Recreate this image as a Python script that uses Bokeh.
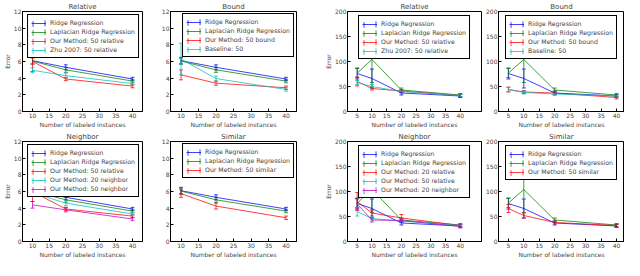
from bokeh.plotting import figure
from bokeh.models import (Range1d, FixedTicker, Whisker, TeeHead, ColumnDataSource,
                          Legend, LegendItem)
from bokeh.layouts import row, column
from bokeh.embed import file_html
from bokeh.resources import INLINE

FONT = "DejaVu Sans"
BLUE, GREEN, RED, CYAN, MAGENTA = "#0000ff", "#008000", "#ff0000", "#00bfbf", "#bf00bf"

# ---------------- data ----------------
x_few = [10, 20, 40]
x_many = [5, 10, 20, 40]
ticks_few = [10, 15, 20, 25, 30, 35, 40]
ticks_many = [5, 10, 15, 20, 25, 30, 35, 40]
yticks_err = [0, 2, 4, 6, 8, 10, 12]
yticks_big = [0, 50, 100, 150, 200]

# panels with 0-12 scale
ridge_a = [6.1, 5.3, 3.9]
ridge_a_sd = [0.4, 0.3, 0.2]
lap_a = [6.05, 5.0, 3.65]
lap_a_sd = [0.35, 0.3, 0.2]
rel50_a = [6.0, 3.9, 3.05]
rel50_a_sd = [1.2, 0.2, 0.2]
zhu50_a = [4.95, 4.3, 3.35]
zhu50_a_sd = [0.3, 0.3, 0.2]
bound50_a = [4.4, 3.4, 2.85]
bound50_a_sd = [0.6, 0.25, 0.2]
base50_a = [6.3, 3.95, 2.65]
base50_a_sd = [1.9, 0.3, 0.2]
nb20_a = [5.85, 4.6, 3.3]
nb20_a_sd = [0.35, 0.3, 0.2]
nb50_a = [4.4, 3.8, 2.7]
nb50_a_sd = [0.4, 0.25, 0.2]
sim50_a = [5.75, 4.25, 2.85]
sim50_a_sd = [0.45, 0.35, 0.2]

# panels with 0-200 scale
ridge_b = [76, 66, 37, 31]
ridge_b_sd = [11, 19, 4, 3]
lap_b = [77, 104, 43, 33]
lap_b_sd = [9, 46, 4, 3]
rel50_b = [60, 46, 41, 32]
rel50_b_sd = [9, 3, 3, 3]
zhu50_b = [58, 50, 40, 32]
zhu50_b_sd = [4, 4, 3, 2]
bound50_b = [44, 39, 37, 28]
bound50_b_sd = [5, 3, 3, 3]
base50_b = [44, 38, 35, 31]
base50_b_sd = [4, 3, 2, 2]
rel20_b = [80, 57, 47, 32]
rel20_b_sd = [18, 6, 7, 3]
nb20_b = [75, 43, 42, 30]
nb20_b_sd = [10, 4, 3, 3]
sim50_b = [66, 52, 38, 32]
sim50_b_sd = [8, 5, 3, 3]

TICK_FS = "6px"
LABEL_FS = "6px"
TITLE_FS = "7px"
LEGEND_FS = "6.2px"
ALPHA = 0.75


def make_panel(title, series, xs, xr, yr, xticks, yticks, width, height,
               mb, ylabel, legend_loc, legend_margin):
    p = figure(width=width, height=height, x_range=Range1d(*xr), y_range=Range1d(*yr),
               output_backend="svg", toolbar_location=None,
               min_border_left=mb[0], min_border_right=mb[1],
               min_border_top=mb[2], min_border_bottom=mb[3])
    p.grid.visible = False
    p.outline_line_color = "black"
    p.outline_line_alpha = 1
    p.background_fill_color = "white"
    p.border_fill_color = "white"
    p.title.text = title
    p.title.text_font = FONT
    p.title.text_font_size = TITLE_FS
    p.title.text_font_style = "normal"
    p.title.align = "center"
    p.title.standoff = 1
    p.title.offset = 0
    for ax in (p.xaxis[0], p.yaxis[0]):
        ax.major_label_text_font = FONT
        ax.major_label_text_font_size = TICK_FS
        ax.axis_label_text_font = FONT
        ax.axis_label_text_font_size = LABEL_FS
        ax.axis_label_text_font_style = "normal"
        ax.axis_label_standoff = 0
        ax.major_label_standoff = 1
        ax.major_tick_in = 3
        ax.major_tick_out = 0
        ax.minor_tick_line_color = None
        ax.axis_line_color = "black"
        ax.major_tick_line_color = "black"
    p.xaxis.ticker = FixedTicker(ticks=xticks)
    p.yaxis.ticker = FixedTicker(ticks=yticks)
    p.xaxis.axis_label = "Number of labeled instances"
    if ylabel:
        p.yaxis.axis_label = ylabel

    items = []
    for label, color, vals, sds in series:
        src = ColumnDataSource(dict(x=xs, y=vals,
                                    lo=[v - s for v, s in zip(vals, sds)],
                                    hi=[v + s for v, s in zip(vals, sds)]))
        lr = p.line("x", "y", source=src, line_color=color, line_alpha=ALPHA, line_width=1)
        w = Whisker(base="x", upper="hi", lower="lo", source=src,
                    line_color=color, line_alpha=ALPHA, line_width=1,
                    upper_head=TeeHead(size=4, line_color=color, line_alpha=ALPHA),
                    lower_head=TeeHead(size=4, line_color=color, line_alpha=ALPHA))
        p.add_layout(w)
        rr = p.rect("x", "y", width=0.1, height=0.1, source=src, fill_color=None,
                    line_color=color, line_alpha=ALPHA, line_dash="0 12 6 12 6 0",
                    visible=False)
        items.append(LegendItem(label=label, renderers=[lr, rr]))
    leg = Legend(items=items, location=legend_loc, margin=legend_margin,
                 padding=3, spacing=0, glyph_width=15, glyph_height=8,
                 label_height=9, label_standoff=4,
                 label_text_font=FONT, label_text_font_size=LEGEND_FS,
                 border_line_color="black", border_line_alpha=1, border_line_width=1,
                 background_fill_color="white", background_fill_alpha=1)
    p.add_layout(leg)
    return p


H = 130
MB1 = (16, 16, 10, 15)
MB2 = (11, 26, 10, 15)
MB3 = (21, 2, 10, 15)
MB4 = (13, 0, 10, 15)
W1, W2, W3, W4 = 158, 164, 161, 141
XR_A = (7, 43)
XR_B3 = (1.7, 47.2)
XR_B4 = (1.8, 42.6)

p1 = make_panel("Relative", [
    ("Ridge Regression", BLUE, ridge_a, ridge_a_sd),
    ("Laplacian Ridge Regression", GREEN, lap_a, lap_a_sd),
    ("Our Method: 50 relative", RED, rel50_a, rel50_a_sd),
    ("Zhu 2007: 50 relative", CYAN, zhu50_a, zhu50_a_sd)],
    x_few, XR_A, (0, 12), ticks_few, yticks_err, W1, H, MB1, "Error", "top_right", 3)

p2 = make_panel("Bound", [
    ("Ridge Regression", BLUE, ridge_a, ridge_a_sd),
    ("Laplacian Ridge Regression", GREEN, lap_a, lap_a_sd),
    ("Our Method: 50 bound", RED, bound50_a, bound50_a_sd),
    ("Baseline: 50", CYAN, base50_a, base50_a_sd)],
    x_few, XR_A, (0, 12), ticks_few, yticks_err, W2, H, MB2, None, "top_right", 2)

p3 = make_panel("Relative", [
    ("Ridge Regression", BLUE, ridge_b, ridge_b_sd),
    ("Laplacian Ridge Regression", GREEN, lap_b, lap_b_sd),
    ("Our Method: 50 relative", RED, rel50_b, rel50_b_sd),
    ("Zhu 2007: 50 relative", CYAN, zhu50_b, zhu50_b_sd)],
    x_many, XR_B3, (0, 200), ticks_many, yticks_big, W3, H, MB3, "Error", "top_center", 4)

p4 = make_panel("Bound", [
    ("Ridge Regression", BLUE, ridge_b, ridge_b_sd),
    ("Laplacian Ridge Regression", GREEN, lap_b, lap_b_sd),
    ("Our Method: 50 bound", RED, bound50_b, bound50_b_sd),
    ("Baseline: 50", CYAN, base50_b, base50_b_sd)],
    x_many, XR_B4, (0, 200), ticks_many, yticks_big, W4, H, MB4, None, "top_center", 4)

p5 = make_panel("Neighbor", [
    ("Ridge Regression", BLUE, ridge_a, ridge_a_sd),
    ("Laplacian Ridge Regression", GREEN, lap_a, lap_a_sd),
    ("Our Method: 50 relative", RED, rel50_a, rel50_a_sd),
    ("Our Method: 20 neighbor", CYAN, nb20_a, nb20_a_sd),
    ("Our Method: 50 neighbor", MAGENTA, nb50_a, nb50_a_sd)],
    x_few, XR_A, (0, 12), ticks_few, yticks_err, W1, H, MB1, "Error", "top_right", 3)

p6 = make_panel("Similar", [
    ("Ridge Regression", BLUE, ridge_a, ridge_a_sd),
    ("Laplacian Ridge Regression", GREEN, lap_a, lap_a_sd),
    ("Our Method: 50 similar", RED, sim50_a, sim50_a_sd)],
    x_few, XR_A, (0, 12), ticks_few, yticks_err, W2, H, MB2, None, "top_right", 2)

p7 = make_panel("Neighbor", [
    ("Ridge Regression", BLUE, ridge_b, ridge_b_sd),
    ("Laplacian Ridge Regression", GREEN, lap_b, lap_b_sd),
    ("Our Method: 20 relative", RED, rel20_b, rel20_b_sd),
    ("Our Method: 50 relative", CYAN, rel50_b, rel50_b_sd),
    ("Our Method: 20 neighbor", MAGENTA, nb20_b, nb20_b_sd)],
    x_many, XR_B3, (0, 200), ticks_many, yticks_big, W3, H, MB3, "Error", "top_center", 4)

p8 = make_panel("Similar", [
    ("Ridge Regression", BLUE, ridge_b, ridge_b_sd),
    ("Laplacian Ridge Regression", GREEN, lap_b, lap_b_sd),
    ("Our Method: 50 similar", RED, sim50_b, sim50_b_sd)],
    x_many, XR_B4, (0, 200), ticks_many, yticks_big, W4, H, MB4, None, "top_center", 4)

layout = column(row(p1, p2, p3, p4), row(p5, p6, p7, p8))

with open("out.html", "w") as f:
    f.write(file_html(layout, INLINE))
